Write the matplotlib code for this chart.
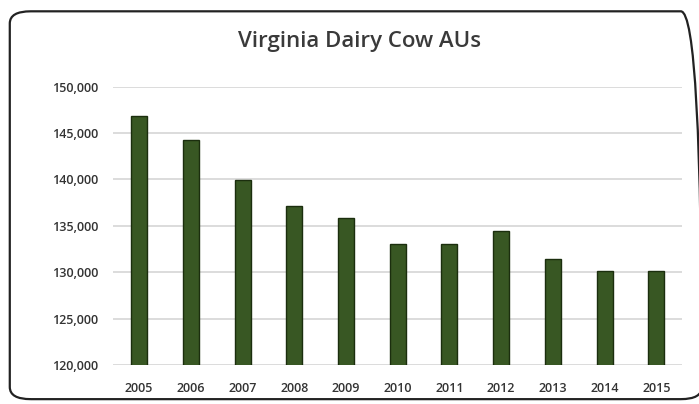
import matplotlib
matplotlib.use("Agg")
import matplotlib.pyplot as plt
from matplotlib.patches import FancyBboxPatch

years = ["2005", "2006", "2007", "2008", "2009", "2010", "2011", "2012", "2013", "2014", "2015"]
values = [146800, 144200, 139900, 137100, 135800, 133050, 133050, 134400, 131400, 130100, 130100]
yticks = [120000, 125000, 130000, 135000, 140000, 145000, 150000]

fig = plt.figure(figsize=(6.99, 4.04), dpi=100)
ax = fig.add_axes([0.162, 0.0965, 0.814, 0.689])

x = list(range(len(years)))
ax.bar(x, values, width=0.31, color="#385723", edgecolor="#1b2e0e", linewidth=1.0, zorder=3)

ax.set_xlim(-0.5, len(years) - 0.5)
ax.set_ylim(120000, 150000)
ax.set_yticks(yticks)
ax.set_yticklabels([f"{v:,}" for v in yticks], fontsize=9, color="#333333",
                   family="Open Sans", fontweight="semibold")
ax.set_xticks(x)
ax.set_xticklabels(years, fontsize=9, color="#333333", family="Open Sans", fontweight="semibold")
ax.tick_params(axis="y", length=0, pad=11)
ax.tick_params(axis="x", length=0, pad=12)
ax.yaxis.grid(True, color="#d6d6d6", linewidth=1.2, zorder=0)
for s in ax.spines.values():
    s.set_visible(False)

fig.text(0.514, 0.898, "Virginia Dairy Cow AUs", ha="center", va="center",
         fontsize=16, color="#3a3a3a", family="Open Sans", fontweight="semibold")

border = FancyBboxPatch((0.014, 0.012), 0.99, 0.96, boxstyle="round,pad=0,rounding_size=0.03",
                        transform=fig.transFigure, fill=False, edgecolor="#222222", linewidth=1.6)
fig.patches.append(border)

fig.savefig("out.png", dpi=100)
